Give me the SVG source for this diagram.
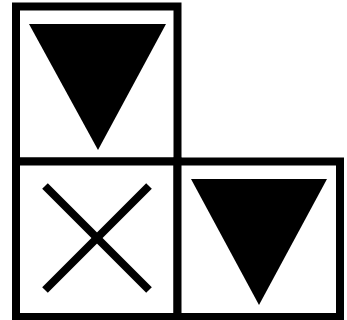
<svg xmlns="http://www.w3.org/2000/svg" width="347" height="320" viewBox="0 0 347 320">
<style>
.box{fill:#fff;stroke:#000;stroke-width:8}
.tri{fill:#000;stroke:none}
.x{stroke:#000;stroke-width:8;fill:none}
</style>
<rect width="347" height="320" fill="#fff"/>
<g id="top-left">
<rect class="box" x="16" y="6.5" width="161.5" height="155"/>
<polygon class="tri" points="29,24 166,24 98,150"/>
</g>
<g id="bottom-left">
<rect class="box" x="16" y="161.5" width="161.5" height="155.5"/>
<line class="x" x1="45" y1="186" x2="149" y2="290"/>
<line class="x" x1="149" y1="186" x2="45" y2="290"/>
</g>
<g id="bottom-right">
<rect class="box" x="177.5" y="161.5" width="162.5" height="155.5"/>
<polygon class="tri" points="191,179 327,179 259,305"/>
</g>
<g id="connectors"></g>
</svg>
